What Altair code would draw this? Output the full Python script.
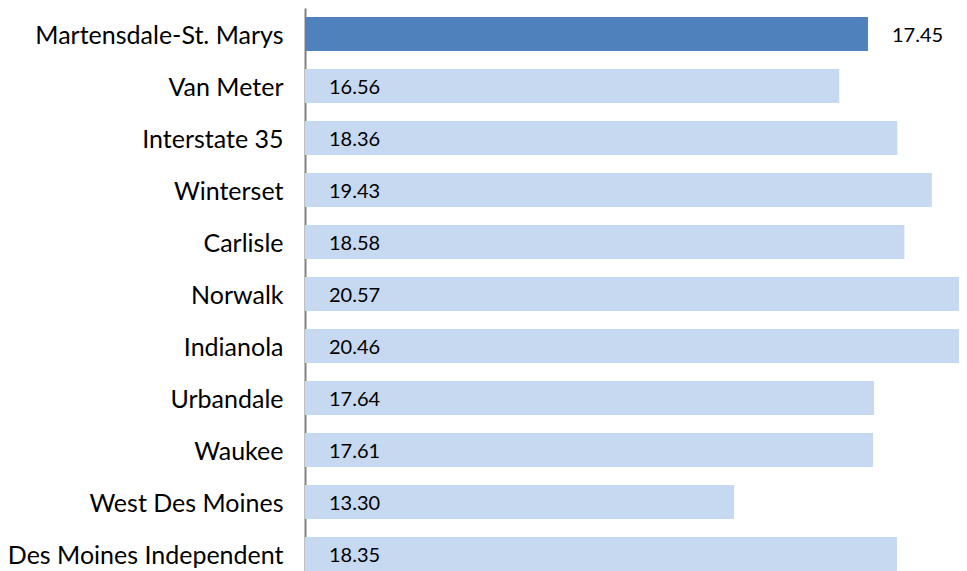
import altair as alt
import pandas as pd

districts = ["Martensdale-St. Marys", "Van Meter", "Interstate 35", "Winterset", "Carlisle",
             "Norwalk", "Indianola", "Urbandale", "Waukee", "West Des Moines",
             "Des Moines Independent"]
values = [17.45, 16.56, 18.36, 19.43, 18.58, 20.57, 20.46, 17.64, 17.61, 13.30, 18.35]
highlight = [True] + [False] * 10

df = pd.DataFrame({"district": districts, "value": values, "hl": highlight})
df["label"] = df["value"].map(lambda v: f"{v:.2f}")

FONT = "Lato"
y_enc = alt.Y("district:N", sort=districts,
              scale=alt.Scale(paddingInner=0.35, paddingOuter=0.175, range=[0, 572]),
              axis=alt.Axis(title=None, ticks=False, labelFont=FONT, labelFontSize=25,
                            labelColor="#000000", labelPadding=22, labelOffset=2,
                            domainColor="#808080", domainWidth=2, labelLimit=400))
x_scale = alt.Scale(domain=[0, 20.52], range=[0, 662], nice=False, zero=True)

bars = alt.Chart(df).mark_bar(clip=True).encode(
    x=alt.X("value:Q", scale=x_scale, axis=None),
    y=y_enc,
    color=alt.condition("datum.hl", alt.value("#4F81BD"), alt.value("#C6D9F1")),
)

text = alt.Chart(df).transform_calculate(
    lx="datum.hl ? datum.value : 0"
).mark_text(align="left", baseline="middle", dx=24, dy=2, font=FONT, fontSize=20,
            color="#000000").encode(
    x=alt.X("lx:Q", scale=x_scale, axis=None),
    y=alt.Y("district:N", sort=districts),
    text="label:N",
)

chart = (bars + text).properties(
    width=654, height=563,
    autosize=alt.AutoSizeParams(type="none"),
    padding={"left": 297, "top": 0, "right": 0, "bottom": 0},
).configure_view(stroke=None)

chart.save("out.html", embed_options={"renderer": "svg", "actions": False})
